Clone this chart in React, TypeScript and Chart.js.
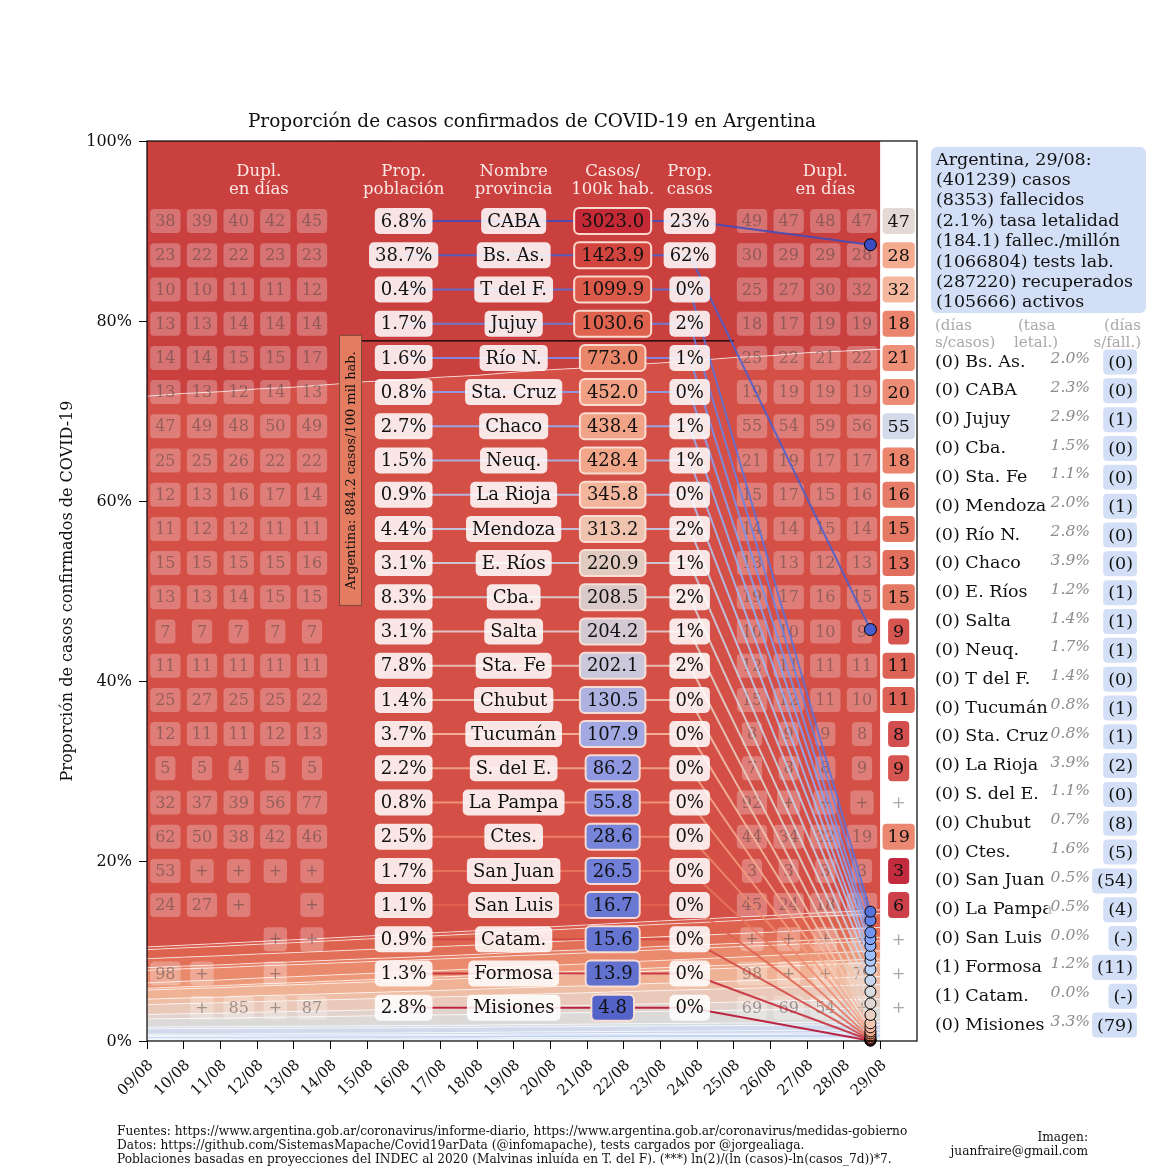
import React, { useEffect, useRef } from 'react';
import { Chart, registerables } from 'chart.js';

Chart.register(...registerables);

const P = Infinity; // "+" : no growth

const dates = ['09/08','10/08','11/08','12/08','13/08','14/08','15/08','16/08','17/08','18/08','19/08','20/08','21/08','22/08','23/08','24/08','25/08','26/08','27/08','28/08','29/08'];

const provinces = ['CABA','Bs. As.','T del F.','Jujuy','Río N.','Sta. Cruz','Chaco','Neuq.','La Rioja','Mendoza','E. Ríos','Cba.','Salta','Sta. Fe','Chubut','Tucumán','S. del E.','La Pampa','Ctes.','San Juan','San Luis','Catam.','Formosa','Misiones'];
const popShare = [6.8,38.7,0.4,1.7,1.6,0.8,2.7,1.5,0.9,4.4,3.1,8.3,3.1,7.8,1.4,3.7,2.2,0.8,2.5,1.7,1.1,0.9,1.3,2.8];
const casesPer100k = [3023.0,1423.9,1099.9,1030.6,773.0,452.0,438.4,428.4,345.8,313.2,220.9,208.5,204.2,202.1,130.5,107.9,86.2,55.8,28.6,26.5,16.7,15.6,13.9,4.8];
const caseShare = [23,62,0,2,1,0,1,1,0,2,1,2,1,2,0,0,0,0,0,0,0,0,0,0];
const argentinaPer100k = 884.2;

// share of confirmed cases (%) per day
const shareCABA = [28.4,28.1,27.9,27.6,27.4,27.1,26.8,26.6,26.3,26.1,25.8,25.5,25.3,25.0,24.8,24.5,24.2,24.0,23.7,23.5,23.2];
const shareBsAs = [61.2,61.3,61.3,61.4,61.4,61.5,61.6,61.6,61.7,61.7,61.8,61.9,61.9,62.0,62.0,62.1,62.2,62.2,62.3,62.3,62.3];
const shareTdF = [0.30,0.30,0.31,0.31,0.32,0.32,0.33,0.33,0.34,0.34,0.35,0.35,0.36,0.36,0.37,0.37,0.38,0.38,0.39,0.39,0.40];
const shareJujuy = [1.00,1.03,1.06,1.08,1.11,1.14,1.17,1.19,1.22,1.25,1.28,1.30,1.33,1.36,1.39,1.41,1.44,1.47,1.50,1.52,1.55];
const shareRioN = [1.00,1.00,1.01,1.01,1.02,1.02,1.03,1.03,1.04,1.04,1.05,1.05,1.06,1.06,1.07,1.07,1.08,1.08,1.09,1.09,1.10];
const shareStaCruz = [0.30,0.30,0.31,0.31,0.32,0.32,0.33,0.33,0.34,0.34,0.35,0.35,0.36,0.36,0.37,0.37,0.38,0.38,0.39,0.39,0.40];
const shareChaco = [1.40,1.38,1.37,1.35,1.34,1.32,1.31,1.29,1.28,1.26,1.25,1.23,1.22,1.20,1.19,1.17,1.16,1.14,1.13,1.11,1.10];
const shareNeuq = [0.60,0.62,0.63,0.65,0.66,0.68,0.69,0.71,0.72,0.74,0.75,0.77,0.78,0.80,0.81,0.83,0.84,0.86,0.87,0.89,0.90];
const shareLaRioja = [0.20,0.21,0.22,0.23,0.24,0.25,0.26,0.27,0.28,0.29,0.30,0.31,0.32,0.33,0.34,0.35,0.36,0.37,0.38,0.39,0.40];
const shareMendoza = [1.00,1.03,1.06,1.08,1.11,1.14,1.17,1.19,1.22,1.25,1.28,1.30,1.33,1.36,1.39,1.41,1.44,1.47,1.50,1.52,1.55];
const shareERios = [0.60,0.62,0.63,0.65,0.66,0.68,0.69,0.71,0.72,0.74,0.75,0.77,0.78,0.80,0.81,0.83,0.84,0.86,0.87,0.89,0.90];
const shareCba = [1.10,1.13,1.15,1.18,1.20,1.23,1.25,1.28,1.30,1.33,1.35,1.38,1.40,1.43,1.45,1.48,1.50,1.53,1.55,1.58,1.60];
const shareSalta = [0.50,0.53,0.55,0.58,0.60,0.63,0.65,0.68,0.70,0.73,0.75,0.78,0.80,0.83,0.85,0.88,0.90,0.93,0.95,0.98,1.00];
const shareStaFe = [0.90,0.93,0.97,1.00,1.03,1.06,1.10,1.13,1.16,1.19,1.23,1.26,1.29,1.32,1.36,1.39,1.42,1.45,1.49,1.52,1.55];
const shareChubut = [0.20,0.20,0.21,0.21,0.22,0.22,0.23,0.23,0.24,0.24,0.25,0.25,0.26,0.26,0.27,0.27,0.28,0.28,0.29,0.29,0.30];
const shareTucuman = [0.60,0.60,0.59,0.59,0.58,0.58,0.58,0.57,0.57,0.57,0.57,0.57,0.57,0.58,0.58,0.58,0.59,0.59,0.60,0.60,0.60];
const shareSdelE = [0.15,0.16,0.16,0.17,0.18,0.19,0.19,0.20,0.21,0.22,0.22,0.23,0.24,0.25,0.25,0.26,0.27,0.28,0.28,0.29,0.30];
const shareLaPampa = [0.10,0.10,0.10,0.11,0.11,0.11,0.12,0.12,0.12,0.12,0.13,0.13,0.13,0.13,0.14,0.14,0.14,0.14,0.15,0.15,0.15];
const shareCtes = [0.20,0.21,0.21,0.22,0.23,0.24,0.24,0.25,0.26,0.27,0.27,0.28,0.29,0.30,0.30,0.31,0.32,0.33,0.33,0.34,0.35];
const shareSanJuan = [0.10,0.10,0.10,0.11,0.11,0.11,0.12,0.12,0.12,0.12,0.13,0.13,0.13,0.13,0.14,0.14,0.14,0.14,0.15,0.15,0.15];
const shareSanLuis = [0.08,0.08,0.08,0.09,0.09,0.09,0.09,0.09,0.10,0.10,0.10,0.10,0.10,0.11,0.11,0.11,0.11,0.11,0.12,0.12,0.12];
const shareCatam = [0.02,0.02,0.02,0.02,0.02,0.02,0.02,0.02,0.02,0.02,0.03,0.03,0.03,0.03,0.03,0.03,0.03,0.03,0.03,0.03,0.03];
const shareFormosa = [0.05,0.05,0.05,0.05,0.05,0.05,0.05,0.05,0.05,0.05,0.06,0.06,0.06,0.06,0.06,0.06,0.06,0.06,0.06,0.06,0.06];
const shareMisiones = [0.05,0.05,0.05,0.05,0.05,0.05,0.05,0.05,0.05,0.05,0.06,0.06,0.06,0.06,0.06,0.06,0.06,0.06,0.06,0.06,0.06];

const shareSeries = [shareCABA, shareBsAs, shareTdF, shareJujuy, shareRioN, shareStaCruz, shareChaco, shareNeuq, shareLaRioja, shareMendoza, shareERios, shareCba, shareSalta, shareStaFe, shareChubut, shareTucuman, shareSdelE, shareLaPampa, shareCtes, shareSanJuan, shareSanLuis, shareCatam, shareFormosa, shareMisiones];

// doubling time in days
const dupLeft = [
  [38,39,40,42,45],[23,22,22,23,23],[10,10,11,11,12],[13,13,14,14,14],[14,14,15,15,17],[13,13,12,14,13],
  [47,49,48,50,49],[25,25,26,22,22],[12,13,16,17,14],[11,12,12,11,11],[15,15,15,15,16],[13,13,14,15,15],
  [7,7,7,7,7],[11,11,11,11,11],[25,27,25,25,22],[12,11,11,12,13],[5,5,4,5,5],[32,37,39,56,77],
  [62,50,38,42,46],[53,P,P,P,P],[24,27,P,null,P],[null,null,null,P,P],[98,P,null,P,null],[null,P,85,P,87],
];
const dupRight = [
  [49,47,48,47],[30,29,29,28],[25,27,30,32],[18,17,19,19],[25,22,21,22],[19,19,19,19],
  [55,54,59,56],[21,19,17,17],[15,17,15,16],[14,14,15,14],[13,13,12,13],[19,17,16,15],
  [10,10,10,9],[12,11,11,11],[15,12,11,10],[8,9,9,8],[7,8,8,9],[92,P,P,P],
  [44,34,32,19],[3,3,3,3],[45,24,18,11],[P,P,P,P],[98,P,P,79],[69,69,54,P],
];
const dupLast = [47,28,32,18,21,20,55,18,16,15,13,15,9,11,11,8,9,P,19,3,6,P,P,P];

const summaryTitle = 'Argentina, 29/08:';
const summaryValues = ['401239','8353','2.1%','184.1','1066804','287220','105666'];
const summaryLabels = ['casos','fallecidos','tasa letalidad','fallec./millón','tests lab.','recuperados','activos'];

const sideNames = ['Bs. As.','CABA','Jujuy','Cba.','Sta. Fe','Mendoza','Río N.','Chaco','E. Ríos','Salta','Neuq.','T del F.','Tucumán','Sta. Cruz','La Rioja','S. del E.','Chubut','Ctes.','San Juan','La Pampa','San Luis','Formosa','Catam.','Misiones'];
const sideDaysCases = [0,0,0,0,0,0,0,0,0,0,0,0,0,0,0,0,0,0,0,0,0,1,1,0];
const sideLethality = [2.0,2.3,2.9,1.5,1.1,2.0,2.8,3.9,1.2,1.4,1.7,1.4,0.8,0.8,3.9,1.1,0.7,1.6,0.5,0.5,0.0,1.2,0.0,3.3];
const sideDaysDeaths = [0,0,1,0,0,1,0,0,1,1,1,0,1,1,2,0,8,5,54,4,null,11,null,79];

const footerLines = [
  'Fuentes: https://www.argentina.gob.ar/coronavirus/informe-diario, https://www.argentina.gob.ar/coronavirus/medidas-gobierno',
  'Datos: https://github.com/SistemasMapache/Covid19arData (@infomapache), tests cargados por @jorgealiaga.',
  'Poblaciones basadas en proyecciones del INDEC al 2020 (Malvinas inluída en T. del F). (***) ln(2)/(ln (casos)-ln(casos_7d))*7.',
];

// ---------- styles ----------
const SERIF = '"DejaVu Serif", serif';
const areaColors = ['#c9403f','#d44f46','#d9594a','#dd634f','#e27058','#e67d62','#ea8a6d','#ed9878','#efa585','#f0b295','#efbea6','#eac9ba','#e2d2cc','#dcdad9','#d6dbe5','#d0daec','#cad7ef','#c6d5f0','#c2d2f1','#bed0f2','#bacdf2','#b6caf2','#b2c7f2','#aec4f2'];
const casesColors = ['#c42a36','#d2453f','#db5a4a','#de624e','#ea876a','#f1a083','#f1a387','#f2a68a','#f3b69c','#efc3ae','#e1cbc1','#d9c9c8','#d2c9d3','#ccc8db','#aeb2e0','#a1a8e2','#9198e2','#8590e0','#7684da','#717fd8','#6878d3','#6575d1','#6171cd','#5363c7'];

const CW = [[59,76,192],[98,130,234],[141,176,254],[185,208,249],[221,220,220],[244,197,173],[244,154,123],[222,96,77],[180,4,38]];
function cw(t: number, a = 1) {
  const tt = Math.max(0, Math.min(1, t));
  const p = tt * 8;
  const i = Math.min(7, Math.floor(p));
  const f = p - i;
  const c = CW[i].map((v, k) => Math.round(v + (CW[i + 1][k] - v) * f));
  return `rgba(${c[0]},${c[1]},${c[2]},${a})`;
}

// layout constants (data units of the plot)
const ROW_TOP = 91.1;
const ROW_STEP = 3.8;
const COL_POP = 7.0, COL_NAME = 10.0, COL_CASES = 12.7, COL_PROP = 14.8;
const LEFT_GRID0 = 0.5, RIGHT_GRID0 = 16.5, LAST_COL = 20.5, DOT_X = 19.73;

function rr(ctx: any, x: number, y: number, w: number, h: number, r: number) {
  ctx.beginPath();
  ctx.moveTo(x + r, y);
  ctx.arcTo(x + w, y, x + w, y + h, r);
  ctx.arcTo(x + w, y + h, x, y + h, r);
  ctx.arcTo(x, y + h, x, y, r);
  ctx.arcTo(x, y, x + w, y, r);
  ctx.closePath();
}

function box(ctx: any, cx: number, cy: number, text: string, font: string, fill: string, color: string, padX: number, h: number, r = 5, stroke?: string, sw = 0) {
  ctx.font = font;
  const w = ctx.measureText(text).width + 2 * padX;
  rr(ctx, cx - w / 2, cy - h / 2, w, h, r);
  ctx.fillStyle = fill;
  ctx.fill();
  if (stroke) { ctx.lineWidth = sw; ctx.strokeStyle = stroke; ctx.stroke(); }
  ctx.fillStyle = color;
  ctx.textAlign = 'center';
  ctx.textBaseline = 'middle';
  ctx.fillText(text, cx, cy + 1);
}

const fmtDup = (v: number | null) => (v === null ? '' : isFinite(v) ? String(v) : '+');

const annotations = {
  id: 'annotations',
  afterDatasetsDraw(chart: any) {
    const { ctx, scales } = chart;
    const X = (v: number) => scales.x.getPixelForValue(v);
    const Y = (v: number) => scales.y.getPixelForValue(v);
    const rowY = (i: number) => Y(ROW_TOP - ROW_STEP * i);
    const n = provinces.length;
    ctx.save();

    // headers
    ctx.fillStyle = 'rgba(255,240,236,0.95)';
    ctx.font = `16.5px ${SERIF}`;
    ctx.textAlign = 'center';
    ctx.textBaseline = 'middle';
    const heads: [number, string, string][] = [[3.05,'Dupl.','en días'],[COL_POP,'Prop.','población'],[COL_NAME,'Nombre','provincia'],[COL_CASES,'Casos/','100k hab.'],[COL_PROP,'Prop.','casos'],[18.5,'Dupl.','en días']];
    heads.forEach(([x, a, b]) => { ctx.fillText(a, X(x), Y(96.6)); ctx.fillText(b, X(x), Y(94.6)); });

    // doubling grids
    const gFont = `16px ${SERIF}`;
    for (let i = 0; i < n; i++) {
      dupLeft[i].forEach((v, j) => { if (v !== null) box(ctx, X(LEFT_GRID0 + j), rowY(i), fmtDup(v), gFont, 'rgba(255,255,255,0.27)', 'rgba(60,55,55,0.45)', 5, 24, 4); });
      dupRight[i].forEach((v, j) => { if (v !== null) box(ctx, X(RIGHT_GRID0 + j), rowY(i), fmtDup(v), gFont, 'rgba(255,255,255,0.27)', 'rgba(60,55,55,0.45)', 5, 24, 4); });
    }

    // Argentina reference
    const above = casesPer100k.filter((v) => v > argentinaPer100k).length;
    const refY = rowY(above - 0.5);
    const bx = X(5.55);
    ctx.strokeStyle = '#000';
    ctx.lineWidth = 1.3;
    ctx.beginPath(); ctx.moveTo(bx + 11, refY); ctx.lineTo(X(16.0), refY); ctx.stroke();
    const bTop = Y(78.4), bBot = Y(48.4);
    ctx.fillStyle = '#e47c5f';
    ctx.fillRect(bx - 11, bTop, 22, bBot - bTop);
    ctx.strokeStyle = '#7d4a3c';
    ctx.lineWidth = 1;
    ctx.strokeRect(bx - 11, bTop, 22, bBot - bTop);
    ctx.save();
    ctx.translate(bx, (bTop + bBot) / 2);
    ctx.rotate(-Math.PI / 2);
    ctx.fillStyle = '#111';
    ctx.font = `13px ${SERIF}`;
    ctx.textAlign = 'center';
    ctx.textBaseline = 'middle';
    ctx.fillText(`Argentina: ${argentinaPer100k.toFixed(1)} casos/100 mil hab.`, 0, 1);
    ctx.restore();

    // band mid-points on the last day
    const last = dates.length - 1;
    const mids: number[] = new Array(n);
    let cum = 0;
    for (let i = n - 1; i >= 0; i--) { const v = shareSeries[i][last]; mids[i] = cum + v / 2; cum += v; }

    // connecting lines
    ctx.lineJoin = 'round';
    for (let i = n - 1; i >= 0; i--) {
      ctx.strokeStyle = cw(i / (n - 1), 0.85);
      ctx.lineWidth = 2;
      ctx.beginPath();
      ctx.moveTo(X(COL_POP), rowY(i));
      ctx.lineTo(X(COL_PROP), rowY(i));
      ctx.lineTo(X(DOT_X), Y(mids[i]));
      ctx.stroke();
    }

    // row boxes
    const rFont = `18px ${SERIF}`;
    const light = 'rgba(255,255,255,0.86)';
    for (let i = 0; i < n; i++) {
      const y = rowY(i);
      box(ctx, X(COL_POP), y, `${popShare[i].toFixed(1)}%`, rFont, light, '#111', 6, 26);
      box(ctx, X(COL_NAME), y, provinces[i], rFont, light, '#111', 6, 26);
      box(ctx, X(COL_CASES), y, casesPer100k[i].toFixed(1), rFont, casesColors[i], '#111', 7, 26, 5, 'rgba(252,226,214,0.95)', 2);
      box(ctx, X(COL_PROP), y, `${caseShare[i]}%`, rFont, light, '#111', 6, 26);
    }

    // dots
    for (let i = n - 1; i >= 0; i--) {
      ctx.beginPath();
      ctx.arc(X(DOT_X), Y(mids[i]), i < 2 ? 6 : 5.5, 0, Math.PI * 2);
      ctx.fillStyle = cw(i / (n - 1), 1);
      ctx.fill();
      ctx.lineWidth = 1;
      ctx.strokeStyle = '#000';
      ctx.stroke();
    }

    // last column
    for (let i = 0; i < n; i++) {
      const v = dupLast[i];
      if (v === null) continue;
      if (isFinite(v)) box(ctx, X(LAST_COL), rowY(i), String(v), `17.5px ${SERIF}`, cw(1 - v / 100, 0.92), '#111', 5, 26, 4);
      else { ctx.fillStyle = '#aaa'; ctx.font = `17px ${SERIF}`; ctx.textAlign = 'center'; ctx.textBaseline = 'middle'; ctx.fillText('+', X(LAST_COL), rowY(i) + 1); }
    }
    ctx.restore();
  },
  afterDraw(chart: any) {
    const { ctx, chartArea: a, scales } = chart;
    const X = (v: number) => scales.x.getPixelForValue(v);
    const Y = (v: number) => scales.y.getPixelForValue(v);
    ctx.save();
    // frame
    ctx.strokeStyle = '#000';
    ctx.lineWidth = 1.2;
    ctx.strokeRect(a.left, a.top, a.right - a.left, a.bottom - a.top);

    // title
    ctx.fillStyle = '#111';
    ctx.font = `18.5px ${SERIF}`;
    ctx.textAlign = 'center';
    ctx.textBaseline = 'middle';
    ctx.fillText('Proporción de casos confirmados de COVID-19 en Argentina', (a.left + a.right) / 2, a.top - 19);

    // y label
    ctx.save();
    ctx.translate(a.left - 79, (a.top + a.bottom) / 2);
    ctx.rotate(-Math.PI / 2);
    ctx.font = `16px ${SERIF}`;
    ctx.fillText('Proporción de casos confirmados de COVID-19', 0, 0);
    ctx.restore();

    // y tick labels
    ctx.font = `16px ${SERIF}`;
    ctx.textAlign = 'right';
    [0, 20, 40, 60, 80, 100].forEach((v) => ctx.fillText(`${v}%`, a.left - 15, Y(v) + 1));

    // x tick labels
    ctx.font = `15px ${SERIF}`;
    dates.forEach((d, i) => {
      ctx.save();
      ctx.translate(X(i) + 4, a.bottom + 22);
      ctx.rotate(-Math.PI / 4);
      ctx.textAlign = 'right';
      ctx.textBaseline = 'middle';
      ctx.fillText(d, 0, 0);
      ctx.restore();
    });

    // right panel summary
    const R = a.right;
    rr(ctx, R + 14, a.top + 6, 215, 166, 6);
    ctx.fillStyle = '#d3dff6';
    ctx.fill();
    ctx.fillStyle = '#111';
    ctx.font = `17.5px ${SERIF}`;
    ctx.textAlign = 'left';
    ctx.textBaseline = 'middle';
    const lines = [summaryTitle, ...summaryValues.map((v, i) => `(${v}) ${summaryLabels[i]}`)];
    lines.forEach((t, i) => ctx.fillText(t, R + 19, a.top + 19 + 20.4 * i));

    // side headers
    ctx.fillStyle = '#a8a8a8';
    ctx.font = `15px ${SERIF}`;
    ctx.textAlign = 'left';
    ctx.fillText('(días', R + 18, a.top + 185);
    ctx.fillText('s/casos)', R + 18, a.top + 202);
    ctx.fillText('(tasa', R + 101, a.top + 185);
    ctx.fillText('letal.)', R + 97, a.top + 202);
    ctx.textAlign = 'right';
    ctx.fillText('(días', R + 224, a.top + 185);
    ctx.fillText('s/fall.)', R + 224, a.top + 202);

    // side rows
    sideNames.forEach((nm, i) => {
      const y = a.top + 221 + 28.83 * i;
      ctx.fillStyle = '#111';
      ctx.font = `17.5px ${SERIF}`;
      ctx.textAlign = 'left';
      ctx.fillText(`(${sideDaysCases[i]}) ${nm}`, R + 18, y);
      // lethality
      const lt = `${sideLethality[i].toFixed(1)}%`;
      ctx.font = `italic 15.5px ${SERIF}`;
      const lw = ctx.measureText(lt).width;
      ctx.fillStyle = 'rgba(255,255,255,0.72)';
      ctx.fillRect(R + 173 - lw - 3, y - 13, lw + 5, 19);
      ctx.fillStyle = '#8c8c8c';
      ctx.textAlign = 'right';
      ctx.fillText(lt, R + 173, y - 3);
      // days since deaths
      const dv = sideDaysDeaths[i];
      const dt = dv === null ? '(-)' : `(${dv})`;
      ctx.font = `17.5px ${SERIF}`;
      const dw = ctx.measureText(dt).width;
      rr(ctx, R + 216 - dw - 5, y - 12.5, dw + 9, 25, 4);
      ctx.fillStyle = '#d3dff6';
      ctx.fill();
      ctx.fillStyle = '#111';
      ctx.fillText(dt, R + 216, y + 1);
    });

    // footer
    ctx.fillStyle = '#111';
    ctx.font = `12.2px ${SERIF}`;
    ctx.textAlign = 'left';
    footerLines.forEach((t, i) => ctx.fillText(t, 109, a.bottom + 91 + 14 * i));
    ctx.textAlign = 'right';
    ctx.fillText('Imagen:', 1080, a.bottom + 97);
    ctx.fillText('juanfraire@gmail.com', 1080, a.bottom + 111);
    ctx.restore();
  },
};

export default function App() {
  const ref = useRef<HTMLCanvasElement>(null);
  useEffect(() => {
    document.documentElement.style.overflow = 'hidden';
    document.body.style.overflow = 'hidden';
    if (!ref.current) return;
    const n = provinces.length;
    const datasets = shareSeries
      .map((arr, i) => ({
        label: provinces[i],
        data: arr.map((v, d) => ({ x: d, y: v })),
        backgroundColor: areaColors[i],
        borderColor: 'rgba(255,255,255,0.85)',
        borderWidth: 0.8,
        pointRadius: 0,
        tension: 0,
        fill: i === n - 1 ? 'origin' : '-1',
      }))
      .reverse();
    const grid = { display: true, drawOnChartArea: false, drawTicks: true, tickLength: 8, color: '#000', lineWidth: 1 };
    const chart = new Chart(ref.current, {
      type: 'line',
      data: { datasets: datasets as any },
      options: {
        animation: false,
        responsive: true,
        maintainAspectRatio: false,
        layout: { padding: { top: 133, right: 245, left: 0, bottom: 8 } },
        plugins: { legend: { display: false }, tooltip: { enabled: false }, title: { display: false } },
        scales: {
          x: {
            type: 'linear', min: 0, max: 21,
            afterBuildTicks: (s: any) => { s.ticks = dates.map((_, i) => ({ value: i })); },
            afterFit: (s: any) => { s.height = 121; },
            ticks: { display: false },
            grid, border: { display: false },
          },
          y: {
            type: 'linear', min: 0, max: 100, stacked: true,
            afterBuildTicks: (s: any) => { s.ticks = [0, 20, 40, 60, 80, 100].map((v) => ({ value: v })); },
            afterFit: (s: any) => { s.width = 139; },
            ticks: { display: false },
            grid, border: { display: false },
          },
        },
      } as any,
      plugins: [annotations],
    });
    return () => chart.destroy();
  }, []);
  return (
    <div style={{ width: 1154, height: 1162, position: 'relative' }}>
      <canvas ref={ref} />
    </div>
  );
}
